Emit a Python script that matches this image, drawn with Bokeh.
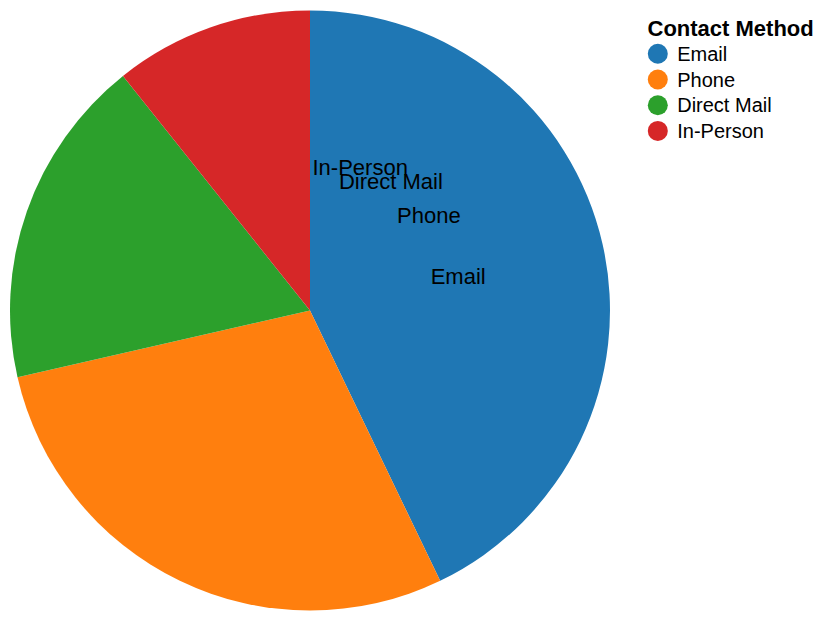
import math
from bokeh.plotting import figure
from bokeh.models import ColumnDataSource, Range1d, Label
from bokeh.core.properties import value
from bokeh.embed import file_html
from bokeh.resources import INLINE

# ---- data ----
categories = ["Email", "Phone", "Direct Mail", "In-Person"]
counts = [1200, 800, 500, 300]
colors = ["#1f77b4", "#ff7f0e", "#2ca02c", "#d62728"]
legend_title = "Contact Method"

FONT = "Liberation Sans"
W, H = 816, 616

p = figure(width=W, height=H, x_range=Range1d(0, W), y_range=Range1d(0, H),
           output_backend="svg", toolbar_location=None, min_border=0,
           x_axis_location=None, y_axis_location=None)
p.grid.visible = False
p.outline_line_color = None

# pie geometry (pixel units; y measured from top then flipped)
cx, cy_top, R = 309.5, 310.0, 300.0
cy = H - cy_top
total = float(sum(counts))

starts, ends, cum = [], [], 0.0
for v in counts:
    starts.append(math.pi / 2 - 2 * math.pi * cum / total)
    cum += v
    ends.append(math.pi / 2 - 2 * math.pi * cum / total)

src = ColumnDataSource(dict(cat=categories, val=counts, color=colors,
                            start=starts, end=ends))
p.wedge(x=cx, y=cy, radius=R, start_angle="start", end_angle="end",
        direction="clock", fill_color="color", line_color=None, source=src)

# slice labels (each placed at half of its own angle, like the source chart)
r_lab = 152.0
lx, ly = [], []
for v in counts:
    th = 2 * math.pi * (v / 2.0) / total
    lx.append(cx + r_lab * math.sin(th))
    ly.append(cy + r_lab * math.cos(th))
lab_src = ColumnDataSource(dict(x=lx, y=ly, text=categories))
p.text(x="x", y="y", text="text", source=lab_src, text_align="center",
       text_baseline="middle", text_font=value(FONT), text_font_size="22px",
       text_color="#000000")

# legend
row0, pitch = 53.3, 25.7
leg_y = [H - (row0 + pitch * i) for i in range(len(categories))]
leg_src = ColumnDataSource(dict(y=leg_y, text=categories, color=colors))
p.scatter(x=657.3, y="y", size=20, fill_color="color", line_color=None,
          source=leg_src)
p.text(x=676.7, y="y", text="text", source=leg_src, text_align="left",
       text_baseline="middle", text_font=value(FONT), text_font_size="20px",
       text_color="#000000")

p.add_layout(Label(x=647, y=H - 28.3, x_units="screen", y_units="screen",
                   text=legend_title, text_font=FONT, text_font_size="22px",
                   text_font_style="bold", text_baseline="alphabetic",
                   text_color="#000000"))

open("out.html", "w").write(file_html(p, INLINE))
